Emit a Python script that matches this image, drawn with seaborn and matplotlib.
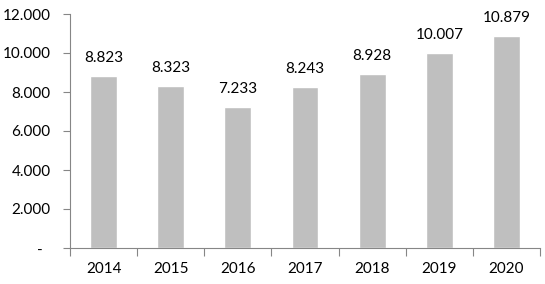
import matplotlib
matplotlib.use("Agg")
import matplotlib.pyplot as plt
import seaborn as sns
import pandas as pd
from matplotlib.ticker import FixedLocator, FixedFormatter

years = ["2014", "2015", "2016", "2017", "2018", "2019", "2020"]
values = [8823, 8323, 7233, 8243, 8928, 10007, 10879]
value_labels = ["8.823", "8.323", "7.233", "8.243", "8.928", "10.007", "10.879"]
y_ticks = [0, 2000, 4000, 6000, 8000, 10000, 12000]
y_tick_labels = ["-  ", "2.000", "4.000", "6.000", "8.000", "10.000", "12.000"]

sns.set_theme(style="white")
plt.rcParams['font.family'] = ['Lato', 'DejaVu Sans']

df = pd.DataFrame({"year": years, "value": values})

fig = plt.figure(figsize=(5.45, 2.84), dpi=100)
ax = fig.add_axes([70/545, 1 - 248/284, 470/545, (248-14)/284])
sns.barplot(data=df, x="year", y="value", color="#BFBFBF", width=0.4,
            saturation=1, ax=ax)

ax.set_xlim(-0.5, len(years) - 0.5)
ax.set_ylim(0, 12000)
ax.set_xlabel("")
ax.set_ylabel("")

ax.yaxis.set_major_locator(FixedLocator(y_ticks))
ax.yaxis.set_major_formatter(FixedFormatter(y_tick_labels))
ax.tick_params(axis="y", length=5, width=0.8, color="#868686", pad=9,
               labelsize=11, labelcolor="black", left=True)
ax.set_xticks(range(len(years)))
ax.set_xticklabels(years)
ax.tick_params(axis="x", length=0, pad=10, labelsize=11, labelcolor="black")
ax.set_xticks([i - 0.5 for i in range(len(years) + 1)], minor=True)
ax.tick_params(axis="x", which="minor", length=6, width=0.8, color="#868686", bottom=True)

for s in ["top", "right"]:
    ax.spines[s].set_visible(False)
for s in ["left", "bottom"]:
    ax.spines[s].set_color("#868686")
    ax.spines[s].set_linewidth(0.8)

for i, (v, lab) in enumerate(zip(values, value_labels)):
    ax.annotate(lab, (i, v), xytext=(0, 8), textcoords="offset points",
                ha="center", va="bottom", fontsize=11, color="black")

fig.savefig("out.png", dpi=100)
